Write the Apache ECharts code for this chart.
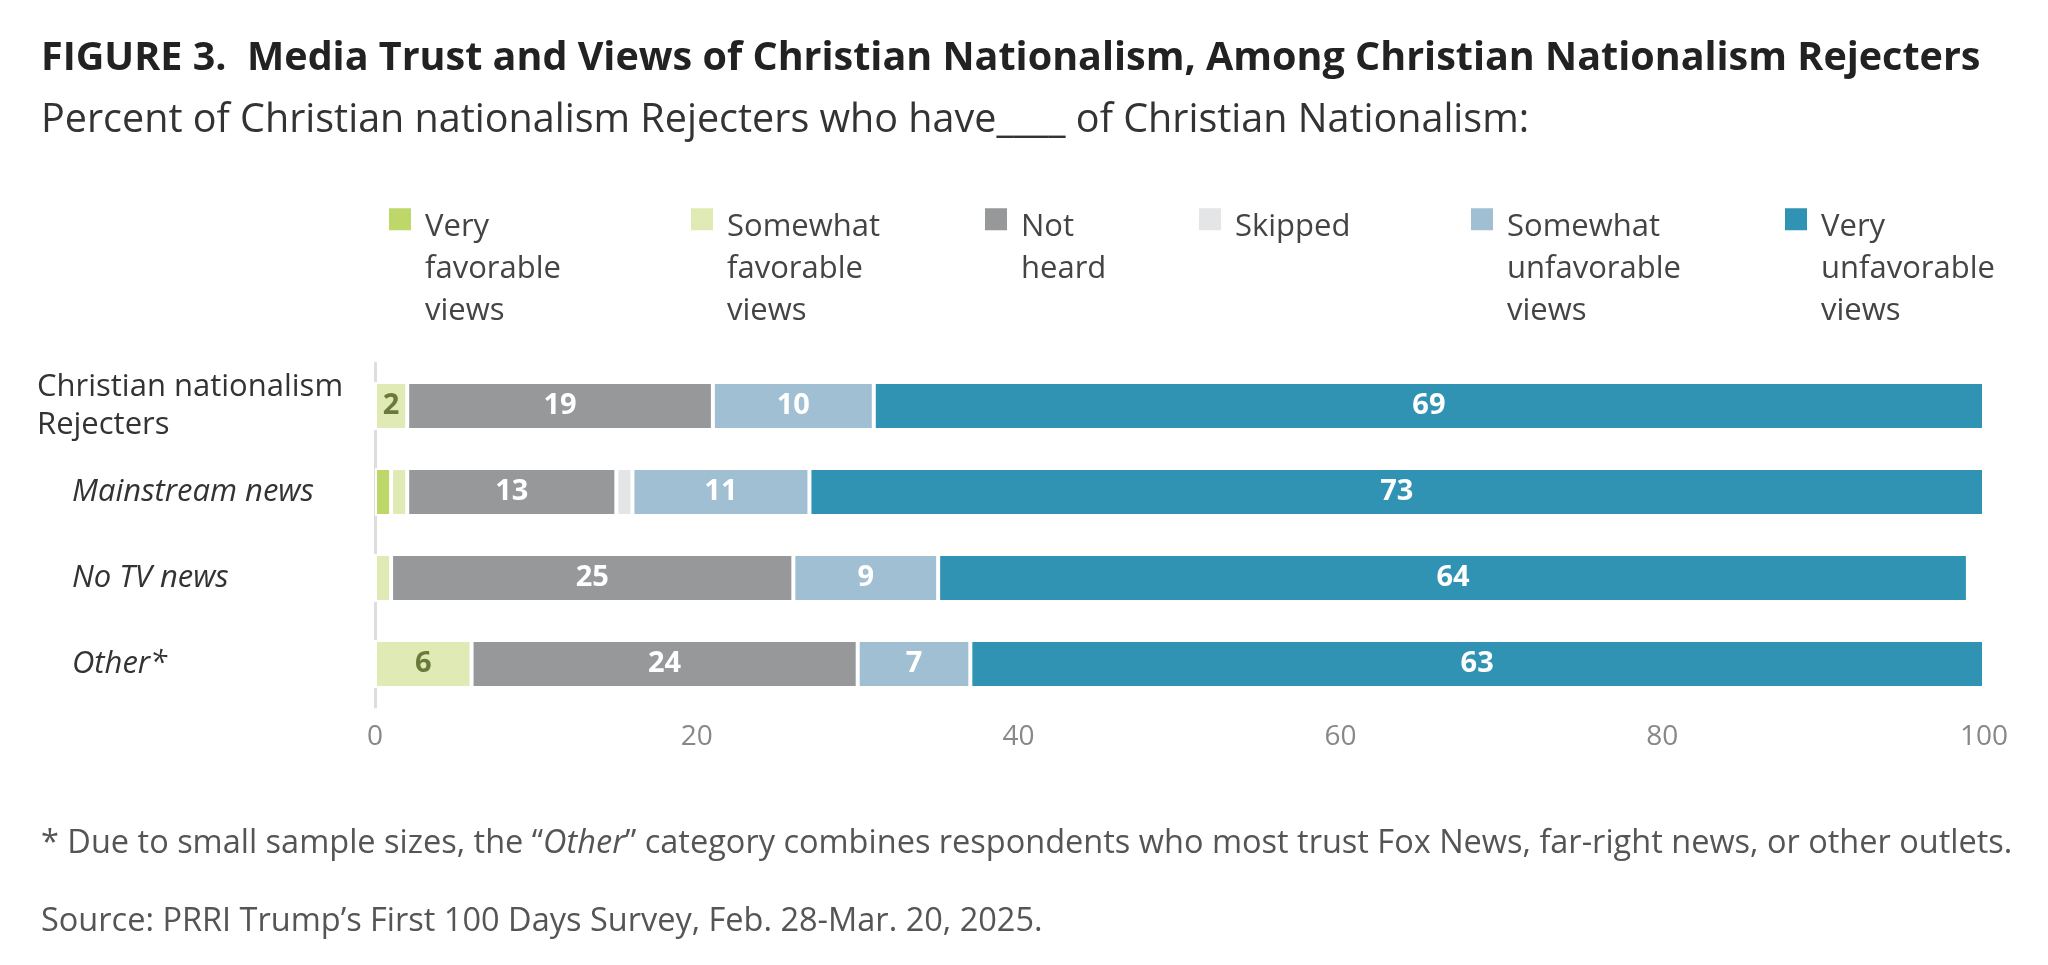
<!DOCTYPE html>
<html><head><meta charset="utf-8">
<script src="https://cdn.jsdelivr.net/npm/echarts@6/dist/echarts.min.js"></script>
<style>html,body{margin:0;padding:0;background:#fff}#c{width:2048px;height:965px}</style>
</head><body><div id="c"></div>
<script>
const categories = ["Christian nationalism\nRejecters", "Mainstream news", "No TV news", "Other*"];
const seriesNames = ["Very\nfavorable\nviews", "Somewhat\nfavorable\nviews", "Not\nheard", "Skipped", "Somewhat\nunfavorable\nviews", "Very\nunfavorable\nviews"];
const veryFav = [0, 1, 0, 0];
const somewhatFav = [2, 1, 1, 6];
const notHeard = [19, 13, 25, 24];
const skipped = [0, 1, 0, 0];
const somewhatUnfav = [10, 11, 9, 7];
const veryUnfav = [69, 73, 64, 63];
const xTicks = [0, 20, 40, 60, 80, 100];

const values = [veryFav, somewhatFav, notHeard, skipped, somewhatUnfav, veryUnfav];
const colors = ['#bdd768', '#dfeab4', '#97989a', '#e4e5e6', '#a0bfd2', '#3193b3'];
const labelColors = ['#6b7a3a', '#6b7a3a', '#fff', '#666', '#fff', '#fff'];
const legendLeft = [382, 684, 978, 1192, 1464, 1778];
const font = '"Open Sans", "Noto Sans", sans-serif';
const LH = 42;

const chart = echarts.init(document.getElementById('c'));
chart.setOption({
  animation: false,
  textStyle: {fontFamily: font},
  title: [
    {text: 'FIGURE 3.  Media Trust and Views of Christian Nationalism, Among Christian Nationalism Rejecters', left: 36, top: 34,
     textStyle: {fontSize: 39.5, fontWeight: 'bold', color: '#222', fontFamily: font}},
    {text: 'Percent of Christian nationalism Rejecters who have____ of Christian Nationalism:', left: 36, top: 96,
     textStyle: {fontSize: 39.5, fontWeight: 'normal', color: '#333', fontFamily: font}},
    {text: '* Due to small sample sizes, the \u201c{i|Other}\u201d category combines respondents who most trust Fox News, far-right news, or other outlets.', left: 36, top: 822,
     textStyle: {fontSize: 32.5, fontWeight: 'normal', color: '#555', fontFamily: font, rich: {i: {fontStyle: 'italic', fontSize: 32.5, color: '#555', fontFamily: font}}}},
    {text: 'Source: PRRI Trump\u2019s First 100 Days Survey, Feb. 28-Mar. 20, 2025.', left: 36, top: 900,
     textStyle: {fontSize: 32.5, fontWeight: 'normal', color: '#555', fontFamily: font}}
  ],
  legend: seriesNames.map((n, i) => {
    const lines = n.split('\n').length;
    const h = LH * lines;
    const bboxH = 10 * h / 24;
    return {
      data: [{name: n, icon: 'path://M0,0.5h10v10h-10zM0,0h0.01v0.01h-0.01zM0,' + (bboxH - 0.01).toFixed(2) + 'h0.01v0.01h-0.01z'}],
      left: legendLeft[i], top: 200, orient: 'vertical', itemWidth: 24, itemHeight: h, itemGap: 0,
      textStyle: {fontSize: 31, color: '#444', lineHeight: LH, fontFamily: font, padding: [0, 0, 0, 8]},
      selectedMode: false
    };
  }),
  grid: {left: 375, right: 64, top: 363, bottom: 258},
  xAxis: {type: 'value', min: 0, max: 100, interval: 20,
    axisLabel: {fontSize: 28, color: '#888', margin: 16, formatter: v => xTicks.includes(v) ? String(v) : ''},
    splitLine: {show: false}, axisLine: {show: false}, axisTick: {show: false}},
  yAxis: {type: 'category', inverse: true, data: categories,
    axisLine: {show: true, lineStyle: {color: '#ddd', width: 3}}, axisTick: {show: false},
    axisLabel: {align: 'left', margin: 338, fontSize: 31, color: '#333', lineHeight: 38,
      formatter: (v, i) => i === 0 ? '{n|' + v.replace('\n', '}\n{n|') + '}' : '{it|' + v + '}',
      rich: {n: {fontSize: 31, color: '#333', lineHeight: 38, fontFamily: font},
             it: {fontSize: 31, color: '#333', fontStyle: 'italic', padding: [0, 0, 0, 35], fontFamily: font}}}},
  series: seriesNames.map((n, i) => ({
    name: n, type: 'bar', stack: 'all', barWidth: 48, data: values[i],
    itemStyle: {color: colors[i], borderColor: '#fff', borderWidth: 2},
    label: {show: true, position: 'inside', fontSize: 29, fontWeight: 'bold', color: labelColors[i], fontFamily: font,
      formatter: p => p.value >= 2 ? String(p.value) : ''}
  }))
});
</script></body></html>
